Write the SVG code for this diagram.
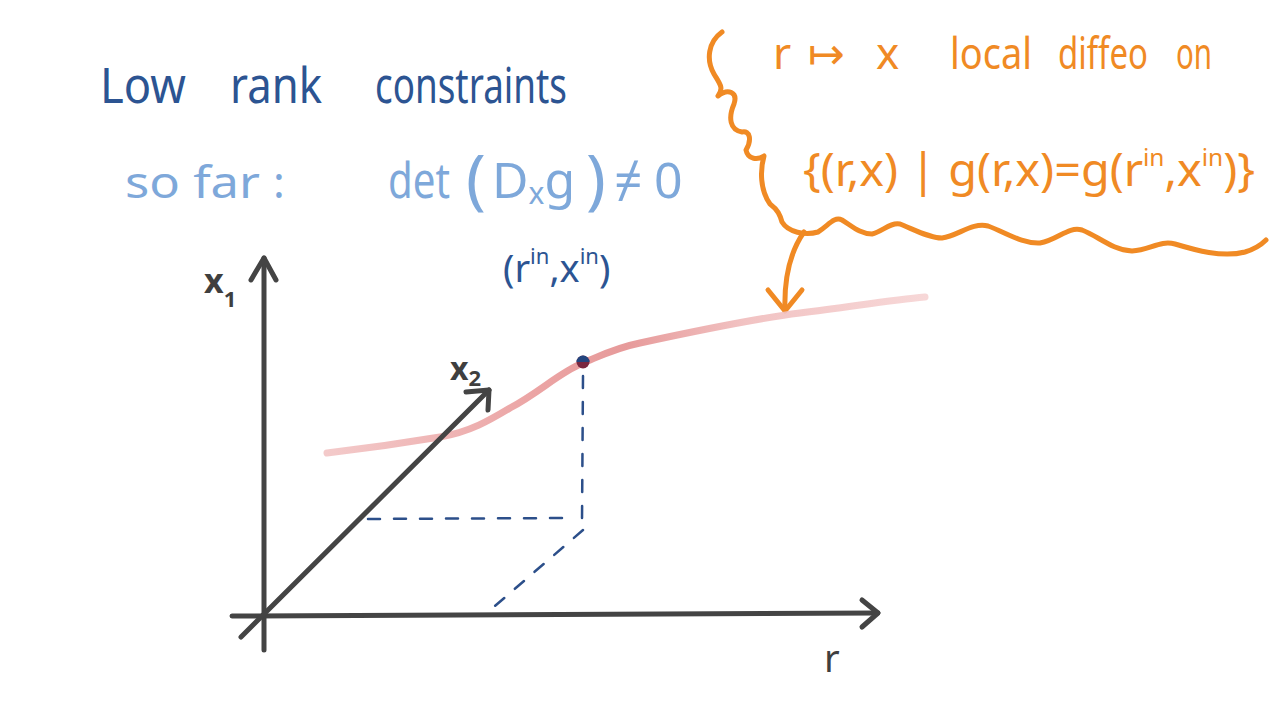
<svg xmlns="http://www.w3.org/2000/svg" width="1280" height="720" viewBox="0 0 1280 720">
<defs>
<style>
.t{font-family:"Noto Sans","DejaVu Sans",sans-serif;}
.dk{fill:#2c5492;}
.lt{fill:#7ea8da;}
.or{fill:#f08a24;}
.ax{fill:#3f3f3f;}
.axis{stroke:#444;stroke-width:5;fill:none;stroke-linecap:round;stroke-linejoin:round;}
.dash{stroke:#2c4f8a;stroke-width:2.5;fill:none;stroke-dasharray:12 14;stroke-linecap:round;}
.orl{stroke:#f08a24;stroke-width:5;fill:none;stroke-linecap:round;stroke-linejoin:round;}
</style>
<linearGradient id="rg" x1="327" y1="0" x2="925" y2="0" gradientUnits="userSpaceOnUse">
<stop offset="0" stop-color="#f2c4c4"/>
<stop offset="0.35" stop-color="#e99a9a"/>
<stop offset="0.5" stop-color="#e48f8f"/>
<stop offset="0.7" stop-color="#f0bcbc"/>
<stop offset="1" stop-color="#f6d3d3"/>
</linearGradient>
</defs>
<rect width="1280" height="720" fill="#ffffff"/>

<g id="title">
<text class="t dk" x="100" y="103" font-size="50" textLength="86" lengthAdjust="spacingAndGlyphs">Low</text>
<text class="t dk" x="230" y="103" font-size="50" textLength="92" lengthAdjust="spacingAndGlyphs">rank</text>
<text class="t dk" x="375" y="103" font-size="50" textLength="192" lengthAdjust="spacingAndGlyphs">constraints</text>
</g>

<g id="sofar">
<text class="t lt" x="125" y="198" font-size="44" textLength="135" lengthAdjust="spacingAndGlyphs">so far</text>
<text class="t lt" x="273" y="198" font-size="44">:</text>
<text class="t lt" x="388" y="198" font-size="50" textLength="62" lengthAdjust="spacingAndGlyphs">det</text>
<text class="t lt" x="466" y="202" font-size="66">(</text>
<text class="t lt" x="492" y="198" font-size="50">D<tspan font-size="30" dy="6">x</tspan><tspan dy="-6">g</tspan></text>
<text class="t lt" x="586" y="202" font-size="66">)</text>
<text class="t lt" x="614" y="198" font-size="50">≠</text>
<text class="t lt" x="654" y="198" font-size="50">0</text>
</g>

<g id="point-label">
<text class="t dk" x="503" y="282" font-size="38">(r<tspan font-size="22" dy="-18">in</tspan><tspan dy="18">,x</tspan><tspan font-size="22" dy="-18">in</tspan><tspan dy="18">)</tspan></text>
</g>

<g id="note">
<text class="t or" x="773" y="69" font-size="44">r</text>
<text class="t or" x="808" y="69" font-size="44">↦</text>
<text class="t or" x="876" y="69" font-size="44">x</text>
<text class="t or" x="950" y="69" font-size="44" textLength="82" lengthAdjust="spacingAndGlyphs">local</text>
<text class="t or" x="1058" y="69" font-size="44" textLength="90" lengthAdjust="spacingAndGlyphs">diffeo</text>
<text class="t or" x="1176" y="69" font-size="44" textLength="36" lengthAdjust="spacingAndGlyphs">on</text>
<text class="t or" x="803" y="186" font-size="46" textLength="452" lengthAdjust="spacingAndGlyphs">{(r,x) | g(r,x)=g(r<tspan font-size="24" dy="-20">in</tspan><tspan dy="20">,x</tspan><tspan font-size="24" dy="-20">in</tspan><tspan dy="20">)}</tspan></text>
<path class="orl" d="M722,32 C708,42 706,60 714,74 C720,84 724,88 718,96 C728,88 738,92 734,104 C728,118 730,130 742,132 C750,130 752,140 746,150 C748,160 758,160 764,156 C760,170 760,190 770,204 C778,210 780,215 782,222 C788,232 805,236 818,232 C828,226 834,216 842,220 C852,226 860,234 872,234 C882,232 890,222 900,224 C915,230 930,238 942,238 C958,236 972,222 988,226 C1005,232 1022,244 1040,243 C1058,240 1068,226 1082,230 C1098,236 1112,250 1132,251 C1150,250 1160,240 1175,244 C1195,250 1222,258 1245,252 C1255,249 1262,244 1266,240"/>
<path class="orl" d="M804,232 C790,252 784,278 785,310"/>
<path class="orl" d="M768,290 L785,311 L802,290"/>
</g>

<g id="curve">
<path d="M327,453 C370,448 410,442 440,437 C470,432 490,420 510,408 C540,392 560,372 583,363 C600,356 615,348 640,343 C700,330 760,318 800,313 C850,307 890,300 925,297" stroke="url(#rg)" stroke-width="7" fill="none" stroke-linecap="round" opacity="0.9"/>
</g>

<g id="connectors">
<path class="dash" d="M583,376 L582,522"/>
<path class="dash" d="M368,519 L565,518"/>
<path class="dash" d="M583,530 L488,612"/>
</g>

<g id="axes">
<path class="axis" d="M264,258 L264,650"/>
<path class="axis" d="M251,280 L264,258 L276,280"/>
<path class="axis" d="M232,616 L878,613"/>
<path class="axis" d="M862,600 L878,613 L862,627"/>
<path class="axis" d="M241,637 L489,390"/>
<path class="axis" d="M466,392 L489,390 L488,410"/>
<text class="t ax" x="204" y="293" font-size="34" font-weight="bold">x<tspan font-size="22" dy="14">1</tspan></text>
<text class="t ax" x="450" y="380" font-size="32" font-weight="bold">x<tspan font-size="22" dy="6">2</tspan></text>
<text class="t ax" x="824" y="672" font-size="38">r</text>
</g>

<g id="point">
<circle cx="583" cy="362" r="6.5" fill="#7a2840"/>
<path d="M576.5,362 A6.5,6.5 0 0 1 589.5,362 Z" fill="#23457f"/>
</g>
</svg>
